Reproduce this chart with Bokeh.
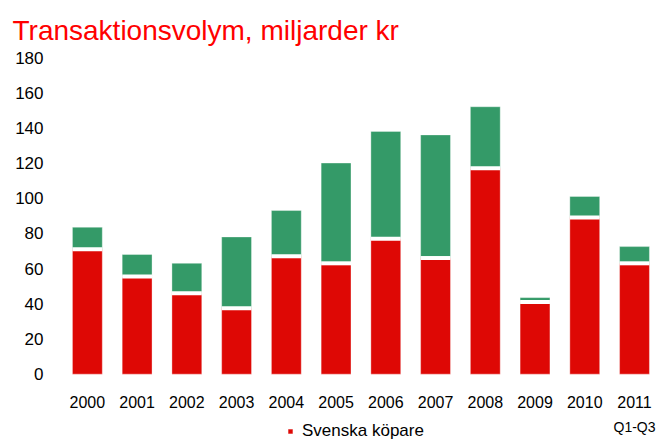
from bokeh.plotting import figure
from bokeh.models import Range1d, FixedTicker, Label, Legend, LegendItem, ColumnDataSource
from bokeh.embed import file_html
from bokeh.resources import INLINE

# ---- data ----
years = ["2000", "2001", "2002", "2003", "2004", "2005",
         "2006", "2007", "2008", "2009", "2010", "2011"]
svenska = [71, 55.5, 46, 37.5, 67, 63, 77, 66, 117, 41, 89, 63]
utlandska = [12.5, 12.5, 17, 40.5, 26, 57, 61, 70, 35, 2.5, 12, 9.5]
y_ticks = [0, 20, 40, 60, 80, 100, 120, 140, 160, 180]
note_2011 = "Q1-Q3"

RED = "#DE0805"
GREEN = "#349A68"
FONT = "Liberation Sans"

idx = list(range(len(years)))
src = ColumnDataSource(dict(
    x=idx, svenska=svenska, utlandska=utlandska,
    x0=[i - 0.3 for i in idx], x1=[i + 0.3 for i in idx],
))

p = figure(width=664, height=441, output_backend="svg", toolbar_location=None,
           x_range=Range1d(-0.5, 11.603), y_range=Range1d(-38.3, 180),
           min_border_left=62, min_border_right=0,
           min_border_top=56, min_border_bottom=0)

p.title.text = "Transaktionsvolym, miljarder kr"
p.title.text_font = FONT
p.title.text_font_size = "28px"
p.title.text_font_style = "normal"
p.title.text_color = "#FF0000"
p.title.align = "left"
p.title.offset = -50
p.title.standoff = 24

p.outline_line_color = None
p.xgrid.grid_line_color = None
p.ygrid.grid_line_color = None

renderers = p.vbar_stack(["svenska", "utlandska"], x="x", width=0.6,
                         color=[RED, GREEN], line_color="white", line_alpha=0.35,
                         line_width=1, source=src)

# white separator between the stacked segments
p.segment(x0="x0", x1="x1", y0="svenska", y1="svenska", line_color="white",
          line_width=4, source=src)

p.yaxis.ticker = FixedTicker(ticks=y_ticks)
p.yaxis.axis_line_color = None
p.yaxis.major_tick_line_color = None
p.yaxis.minor_tick_line_color = None
p.yaxis.major_label_text_font = FONT
p.yaxis.major_label_text_font_size = "17px"
p.yaxis.major_label_text_color = "#000000"
p.yaxis.major_label_standoff = 13

p.xaxis.fixed_location = 0
p.xaxis.ticker = FixedTicker(ticks=idx)
p.xaxis.major_label_overrides = {i: y for i, y in zip(idx, years)}
p.xaxis.axis_line_color = None
p.xaxis.major_tick_line_color = None
p.xaxis.minor_tick_line_color = None
p.xaxis.major_label_text_font = FONT
p.xaxis.major_label_text_font_size = "16px"
p.xaxis.major_label_text_color = "#000000"
p.xaxis.major_label_standoff = 16

p.add_layout(Label(x=idx[-1], y=-30, text=note_2011, text_align="center",
                   text_baseline="middle", text_font=FONT, text_font_size="14px",
                   text_color="#000000"))

legend = Legend(items=[LegendItem(label="Svenska köpare", renderers=[renderers[0]])],
                location=(225, 0), orientation="horizontal", padding=0, margin=0,
                border_line_color=None, background_fill_alpha=0,
                glyph_width=6, glyph_height=6, label_standoff=9,
                label_text_font=FONT, label_text_font_size="17px",
                label_text_color="#000000")
p.add_layout(legend)

open("out.html", "w").write(file_html(p, INLINE))
